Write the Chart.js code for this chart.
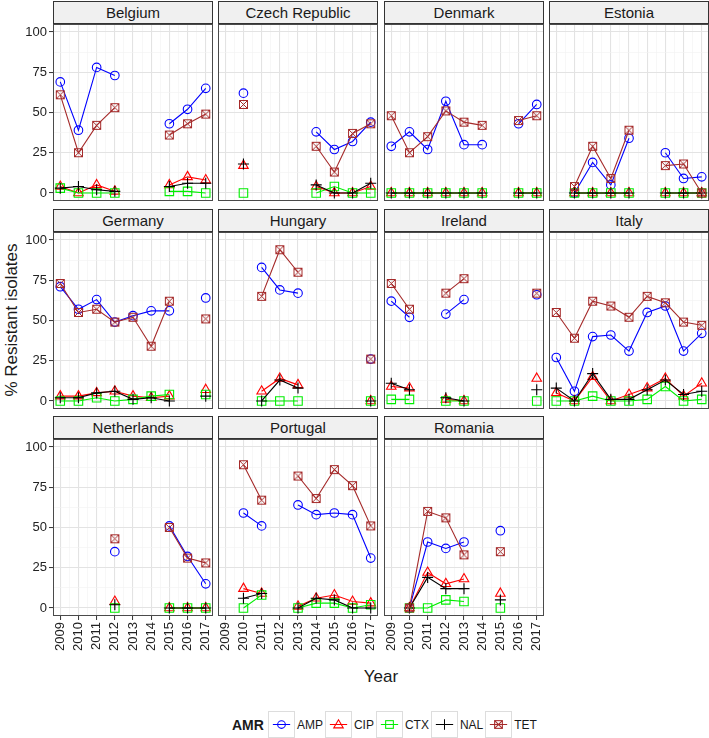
<!DOCTYPE html>
<html lang="en">
<head>
<meta charset="UTF-8" />
<title>AMR by country</title>
<script src="https://cdn.jsdelivr.net/npm/chart.js@4.4.1/dist/chart.umd.min.js"></script>
<style>
  * { margin: 0; padding: 0; box-sizing: border-box; }
  body {
    width: 709px; height: 738px; background: #fff; position: relative; overflow: hidden;
    font-family: "Liberation Sans", Arial, sans-serif; color: #1a1a1a;
  }
  .strip {
    position: absolute; height: 23px; background: #f0f0f0; border: 1px solid #333;
    font-size: 15px; text-align: center; line-height: 21px;
  }
  canvas.panel { position: absolute; }
  .ytitle {
    position: absolute; left: 12px; top: 320px; white-space: nowrap; font-size: 17px;
    transform: translate(-50%, -50%) rotate(-90deg);
  }
  .xtitle { position: absolute; left: 381px; top: 677px; transform: translate(-50%, -50%); font-size: 17px; }
  .legend { position: absolute; top: 711px; left: 232px; height: 27px; display: flex; align-items: center; }
  .legend b { font-size: 14px; margin-right: 4px; }
  .legend .key { width: 27px; height: 27px; border: 1px solid #ddd; }
  .legend span { font-size: 12px; padding: 0 2px 0 2px; }
</style>
</head>
<body>
<div class="ytitle">% Resistant isolates</div>
<div class="xtitle">Year</div>
<div class="legend" id="legend"><b>AMR</b></div>

<script>
const _ = null;
const years = [2009, 2010, 2011, 2012, 2013, 2014, 2015, 2016, 2017];
const countries = ["Belgium", "Czech Republic", "Denmark", "Estonia", "Germany", "Hungary",
  "Ireland", "Italy", "Netherlands", "Portugal", "Romania"];
const drugs = ["AMP", "CIP", "CTX", "NAL", "TET"];
const yTickLabels = [0, 25, 50, 75, 100];

// one row per country, one value per year (null = no data)
const AMP = [
  [69, 39, 78, 73, _, _, 43, 52, 65],
  [_, 62, _, _, _, 38, 27, 32, 44],
  [29, 38, 27, 57, 30, 30, _, 43, 55],
  [_, 0, 19, 5, 34, _, 25, 9, 10],
  [71, 57, 63, 49, 53, 56, 56, _, 64],
  [_, _, 83, 69, 67, _, _, _, 26],
  [62, 52, _, 54, 63, _, _, _, 66],
  [27, 6, 40, 41, 31, 55, 59, 31, 42],
  [_, _, _, 35, _, _, 51, 32, 15],
  [_, 59, 51, _, 64, 58, 59, 58, 31],
  [_, 0, 41, 37, 41, _, 48, _, _]
];
const CIP = [
  [4, 0, 5, 1, _, _, 5, 10, 8],
  [_, 17, _, _, _, 4, 0, 0, 4],
  [0, 0, 0, 0, 0, 0, _, 0, 0],
  [_, 0, 0, 0, 0, _, 0, 0, 0],
  [3, 3, 5, 6, 3, 2, 3, _, 7],
  [_, _, 6, 14, 10, _, _, _, 0],
  [9, 8, _, 1, 0, _, _, _, 14],
  [5, 0, 15, 0, 4, 8, 14, 3, 11],
  [_, _, _, 4, _, _, 0, 0, 0],
  [_, 12, 9, _, 1, 6, 8, 4, 3],
  [_, 0, 22, 15, 18, _, 9, _, _]
];
const CTX = [
  [3, 0, 0, 0, _, _, 1, 1, 0],
  [_, 0, _, _, _, 0, 4, 0, 0],
  [0, 0, 0, 0, 0, 0, _, 0, 0],
  [_, 0, 0, 0, 0, _, 0, 0, 0],
  [0, 0, 2, 0, 1, 3, 4, _, 4],
  [_, _, 0, 0, 0, _, _, _, 0],
  [1, 1, _, 0, 0, _, _, _, 0],
  [0, 0, 3, 0, 0, 1, 9, 0, 1],
  [_, _, _, 0, _, _, 0, 0, 0],
  [_, 0, 8, _, 0, 3, 3, 0, 2],
  [_, 0, 0, 5, 4, _, 0, _, _]
];
const NAL = [
  [3, 4, 2, 1, _, _, 4, 6, 6],
  [_, 18, _, _, _, 5, 0, 0, 6],
  [0, 0, 0, 0, 0, 0, _, 0, 0],
  [_, 0, 0, 0, 0, _, 0, 0, 0],
  [2, 2, 5, 6, 1, 2, 0, _, 3],
  [_, _, 0, 13, 8, _, _, _, 0],
  [11, 7, _, 2, 0, _, _, _, 7],
  [8, 0, 17, 1, 1, 7, 13, 4, 6],
  [_, _, _, 2, _, _, 0, 0, 0],
  [_, 6, 9, _, 0, 6, 5, 0, 0],
  [_, 0, 19, 12, 12, _, 5, _, _]
];
const TET = [
  [61, 25, 42, 53, _, _, 36, 43, 49],
  [_, 55, _, _, _, 29, 13, 37, 43],
  [48, 25, 35, 51, 44, 42, _, 45, 48],
  [_, 4, 29, 9, 39, _, 17, 18, 0],
  [73, 55, 57, 49, 52, 34, 62, _, 51],
  [_, _, 65, 94, 80, _, _, _, 26],
  [73, 57, _, 67, 76, _, _, _, 67],
  [55, 39, 62, 59, 52, 65, 61, 49, 47],
  [_, _, _, 43, _, _, 50, 31, 28],
  [_, 89, 67, _, 82, 68, 86, 76, 51],
  [_, 0, 60, 56, 33, _, 35, _, _]
];

const values = { AMP, CIP, CTX, NAL, TET };
const colors = { AMP: "#0000ff", CIP: "#ff0000", CTX: "#00ee00", NAL: "#000000", TET: "#a52a2a" };

// square with an X (ggplot shape 7)
function tetMarker() {
  const c = document.createElement("canvas");
  c.width = c.height = 11;
  const g = c.getContext("2d");
  g.strokeStyle = colors.TET;
  g.lineWidth = 1;
  g.strokeRect(1.5, 1.5, 8, 8);
  g.beginPath();
  g.moveTo(1.5, 1.5); g.lineTo(9.5, 9.5);
  g.moveTo(9.5, 1.5); g.lineTo(1.5, 9.5);
  g.stroke();
  return c;
}
const markers = {
  AMP: { pointStyle: "circle", pointRadius: 4.3 },
  CIP: { pointStyle: "triangle", pointRadius: 5.5 },
  CTX: { pointStyle: "rect", pointRadius: 6 },
  NAL: { pointStyle: "cross", pointRadius: 5.5 },
  TET: { pointStyle: tetMarker(), pointRadius: 5 }
};

Chart.defaults.font.family = '"Liberation Sans", Arial, sans-serif';

const colLeft = [53, 218, 384, 549];
const rowTop = [1, 209, 416];
const panelW = 160, stripH = 23, plotH = 177;
const xTicks = [];
for (let v = 2009; v <= 2017; v += 0.5) xTicks.push(v);
const yTicks = [0, 12.5, 25, 37.5, 50, 62.5, 75, 87.5, 100];

const panelBorder = {
  id: "panelBorder",
  afterDraw(chart) {
    const { ctx, chartArea: a } = chart;
    ctx.save();
    ctx.strokeStyle = "#4a4a4a";
    ctx.lineWidth = 1;
    ctx.strokeRect(Math.round(a.left) + 0.5, Math.round(a.top) + 0.5,
      Math.round(a.right - a.left) - 1, Math.round(a.bottom - a.top) - 1);
    ctx.restore();
  }
};

// no label overhang padding, the panel must fill the canvas exactly
const noPad = (s) => { s.paddingTop = s.paddingBottom = s.paddingLeft = s.paddingRight = 0; };

const gridColor = (major) => (major ? "#e3e3e3" : "#f1f1f1");

countries.forEach((name, i) => {
  const row = Math.floor(i / 4), col = i % 4;
  const leftExtra = col === 0 ? 40 : 0;
  const bottom = row === 2;
  const bottomExtra = bottom ? 50 : 0;

  const strip = document.createElement("div");
  strip.className = "strip";
  strip.style.left = colLeft[col] + "px";
  strip.style.top = rowTop[row] + "px";
  strip.style.width = panelW + "px";
  strip.textContent = name;
  document.body.appendChild(strip);

  const cv = document.createElement("canvas");
  cv.className = "panel";
  cv.width = panelW + leftExtra;
  cv.height = plotH + bottomExtra;
  cv.style.left = colLeft[col] - leftExtra + "px";
  cv.style.top = rowTop[row] + stripH + "px";
  document.body.appendChild(cv);

  const datasets = drugs.slice().reverse().map((d) => ({
    label: d,
    data: years.map((y, k) => ({ x: y, y: values[d][i][k] })),
    borderColor: colors[d],
    borderWidth: 1.1,
    pointBorderColor: colors[d],
    pointBackgroundColor: "rgba(0,0,0,0)",
    pointBorderWidth: 1.1,
    fill: false,
    spanGaps: false,
    tension: 0,
    ...markers[d]
  }));

  new Chart(cv, {
    type: "line",
    data: { datasets },
    plugins: [panelBorder],
    options: {
      responsive: false,
      animation: false,
      events: [],
      layout: { padding: 0, autoPadding: false },
      plugins: { legend: { display: false }, tooltip: { enabled: false } },
      scales: {
        x: {
          type: "linear",
          min: 2008.6,
          max: 2017.4,
          afterBuildTicks: (s) => { s.ticks = xTicks.map((v) => ({ value: v })); },
          afterFit: (s) => { s.height = bottomExtra; noPad(s); },
          border: { display: false },
          grid: {
            color: (c) => gridColor(Number.isInteger(c.tick.value)),
            lineWidth: (c) => (Number.isInteger(c.tick.value) ? 1.1 : 0.6),
            drawTicks: bottom,
            tickLength: 4,
            tickColor: (c) => (Number.isInteger(c.tick.value) ? "#333" : "rgba(0,0,0,0)"),
            tickWidth: 1
          },
          ticks: {
            display: bottom,
            autoSkip: false,
            minRotation: 90,
            maxRotation: 90,
            padding: 2,
            color: "#222",
            font: { size: 13 },
            callback: (v) => (Number.isInteger(v) ? String(v) : "")
          }
        },
        y: {
          min: -5,
          max: 105,
          afterBuildTicks: (s) => { s.ticks = yTicks.map((v) => ({ value: v })); },
          afterFit: (s) => { s.width = leftExtra; noPad(s); },
          border: { display: false },
          grid: {
            color: (c) => gridColor(c.tick.value % 25 === 0),
            lineWidth: (c) => (c.tick.value % 25 === 0 ? 1.1 : 0.6),
            drawTicks: col === 0,
            tickLength: 4,
            tickColor: (c) => (c.tick.value % 25 === 0 ? "#333" : "rgba(0,0,0,0)"),
            tickWidth: 1
          },
          ticks: {
            display: col === 0,
            autoSkip: false,
            padding: 2,
            color: "#222",
            font: { size: 13 },
            callback: (v) => (yTickLabels.includes(v) ? String(v) : "")
          }
        }
      }
    }
  });
});

// legend keys
const keySvg = {
  AMP: '<circle cx="13" cy="13" r="4" fill="none" stroke="#0000ff" stroke-width="1.1"/>',
  CIP: '<polygon points="13,8 18,16.5 8,16.5" fill="none" stroke="#ff0000" stroke-width="1.1"/>',
  CTX: '<rect x="9" y="9" width="8" height="8" fill="none" stroke="#00ee00" stroke-width="1.1"/>',
  NAL: '<path d="M13 7.5 V18.5" stroke="#000" stroke-width="1.1"/>',
  TET: '<rect x="9" y="9" width="8" height="8" fill="none" stroke="#a52a2a" stroke-width="1.1"/>' +
       '<path d="M9 9 L17 17 M17 9 L9 17" stroke="#a52a2a" stroke-width="1.1"/>'
};
const legend = document.getElementById("legend");
drugs.forEach((d) => {
  const k = document.createElement("div");
  k.className = "key";
  k.innerHTML = '<svg width="25" height="25" viewBox="0 0 26 26">' +
    '<path d="M4 13 H22" stroke="' + colors[d] + '" stroke-width="1.1"/>' + keySvg[d] + "</svg>";
  legend.appendChild(k);
  const t = document.createElement("span");
  t.textContent = d;
  legend.appendChild(t);
});
</script>
</body>
</html>
